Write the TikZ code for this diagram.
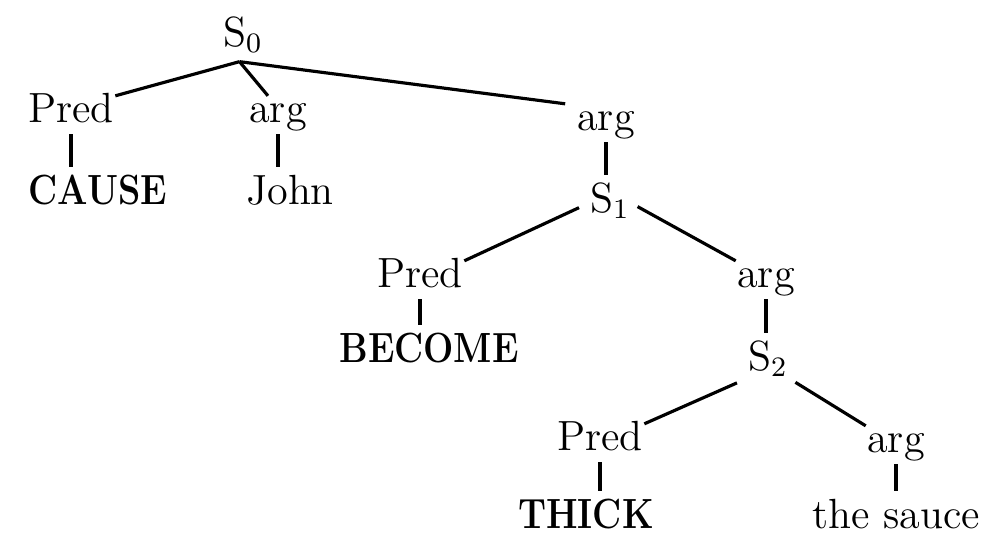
\documentclass[tikz,border=0pt]{standalone}
\usepackage{tikz}

\newcommand{\lexw}[1]{\scalebox{0.85}[1]{\textbf{#1}}}

\begin{document}
\begin{tikzpicture}[x=0.01cm,y=-0.01cm,line width=0.9pt,
	every node/.style={font=\large,anchor=base,inner sep=0pt,
		text height=0.7em,text depth=0.2em},
	down/.style={shorten <=1pt,shorten >=3pt}]
	\useasboundingbox (0,0) rectangle (986,539);
	% top level
	\node (s0) at (243,46) {S$_0$};
	\node (pred0) at (71,122) {Pred};
	\node (arg0) at (278,122) {arg};
	\node (arg1) at (606,130) {arg};
	\node (cause) at (98,204) {\lexw{CAUSE}};
	\node (john) at (290,204) {John};
	\draw ([xshift=-1pt,yshift=-2pt]s0.south) -- (pred0.north east);
	\draw ([xshift=-1pt,yshift=-2pt]s0.south) -- (arg0.120);
	\draw ([xshift=-1pt,yshift=-2pt]s0.south) -- ([xshift=-3pt]arg1.north west);
	\draw [down] (pred0.south) -- (pred0.south |- cause.north);
	\draw [down] (arg0.south) -- (arg0.south |- john.north);
	% S1
	\node (s1) at (610,212) {S$_1$};
	\node (pred1) at (420,287) {Pred};
	\node (arg2) at (766,287) {arg};
	\node (become) at (429,362) {\lexw{BECOME}};
	\draw [down] (arg1.south) -- (arg1.south |- s1.north);
	\draw [shorten <=3pt] (s1.west) -- (pred1.north east);
	\draw [shorten <=2pt] (s1.east) -- (arg2.north west);
	\draw [down] (pred1.south) -- (pred1.south |- become.north);
	% S2
	\node (s2) at (768,370) {S$_2$};
	\node (pred2) at (600,450) {Pred};
	\node (arg3) at (896,452) {arg};
	\node (thick) at (586,528) {\lexw{THICK}};
	\node (sauce) at (896,528) {the sauce};
	\draw [down] (arg2.south) -- (arg2.south |- s2.north);
	\draw [shorten <=3pt] (s2.south west) -- (pred2.north east);
	\draw [shorten <=2pt] (s2.south east) -- (arg3.north west);
	\draw [down] (pred2.south) -- (pred2.south |- thick.north);
	\draw [down] (arg3.south) -- (arg3.south |- sauce.north);
\end{tikzpicture}
\end{document}
